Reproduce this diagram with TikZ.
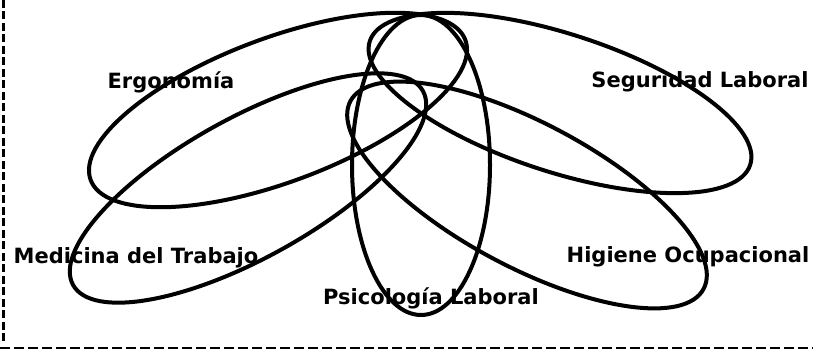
\documentclass[tikz,border=0pt]{standalone}
\usepackage{fontspec}
\newfontfamily\lblfont{DejaVu Sans}
\begin{document}
\begin{tikzpicture}[x=1pt,y=1pt,
  lbl/.style={font=\lblfont\bfseries\fontsize{21}{24}\selectfont, inner sep=0pt, anchor=center},
  loop/.style={draw=black, line width=4pt},
  frame/.style={draw=black, line width=3pt, dash pattern=on 8pt off 3.5pt}]
\useasboundingbox (0,0) rectangle (813,350);
% labels
\node[lbl] (ergo) at (171,268) {Ergonomía};
\node[lbl] (segu) at (700,268) {Seguridad Laboral};
\node[lbl] (medi) at (136,92) {Medicina del Trabajo};
\node[lbl] (higi) at (688,93) {Higiene Ocupacional};
\node[lbl] (psic) at (431,52) {Psicología Laboral};
% ellipses
\draw[loop, rotate around={20.5:(278,240)}] (278,240) ellipse [x radius=200, y radius=72];
\draw[loop, rotate around={-18:(560,247)}] (560,247) ellipse [x radius=200, y radius=69];
\draw[loop, rotate around={29:(248,162)}] (248,162) ellipse [x radius=200, y radius=70];
\draw[loop, rotate around={-28:(527,155)}] (527,155) ellipse [x radius=200, y radius=72];
\draw[loop] (421,185) ellipse [x radius=69, y radius=150];
% dashed frame
\coordinate (ftop) at (3,350);
\coordinate (fcorner) at (3,8);
\coordinate (bleft) at (0,2);
\coordinate (bright) at (813,2);
\draw[frame] (ftop) -- (fcorner);
\draw[frame, dash pattern=on 10pt off 4pt, line width=2.6pt] (bleft) -- (bright);
\end{tikzpicture}
\end{document}
